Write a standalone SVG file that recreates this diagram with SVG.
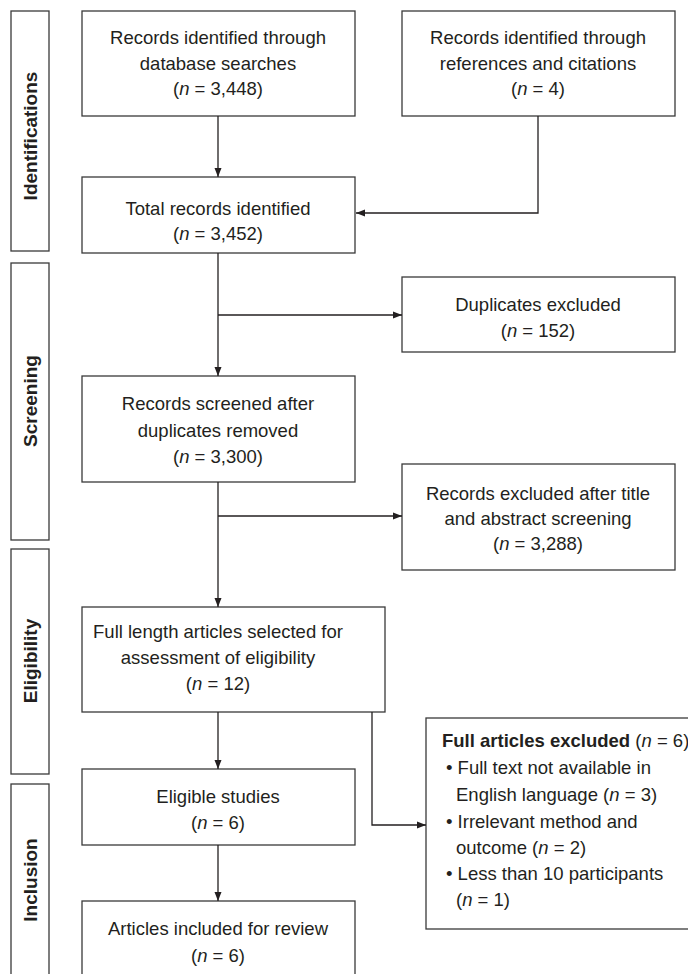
<svg xmlns="http://www.w3.org/2000/svg" width="688" height="974" viewBox="0 0 688 974">
<defs>
<marker id="ah" markerUnits="userSpaceOnUse" markerWidth="10" markerHeight="8" refX="9" refY="4" orient="auto">
<path d="M0,0.5 L9,4 L0,7.5 Z" fill="#231f20"/>
</marker>
<style>
.box{fill:#fff;stroke:#3a3a3a;stroke-width:1.3}
.t{font-family:"Liberation Sans",Arial,sans-serif;font-size:18.5px;fill:#231f20;text-anchor:middle}
.l{text-anchor:start}
.lab{font-family:"Liberation Sans",Arial,sans-serif;font-size:19px;font-weight:bold;fill:#231f20;text-anchor:middle}
.c{fill:none;stroke:#231f20;stroke-width:1.3}
.i{font-style:italic}
</style>
</defs>
<rect width="688" height="974" fill="#fff"/>

<g id="stage-identifications">
<rect class="box" x="11" y="11" width="38" height="240"/>
<text class="lab" transform="translate(37,136) rotate(-90)">Identifications</text>
</g>
<g id="stage-screening">
<rect class="box" x="11" y="263" width="38" height="277"/>
<text class="lab" transform="translate(37,401) rotate(-90)">Screening</text>
</g>
<g id="stage-eligibility">
<rect class="box" x="11" y="549" width="38" height="225"/>
<text class="lab" transform="translate(37,661) rotate(-90)">Eligibility</text>
</g>
<g id="stage-inclusion">
<rect class="box" x="11" y="784" width="38" height="200"/>
<text class="lab" transform="translate(37,880) rotate(-90)">Inclusion</text>
</g>

<g id="db-search">
<rect class="box" x="82" y="11" width="273" height="105"/>
<text class="t" x="218" y="44">Records identified through</text>
<text class="t" x="218" y="70">database searches</text>
<text class="t" x="218" y="95">(<tspan class="i">n</tspan> = 3,448)</text>
</g>
<g id="ref-search">
<rect class="box" x="402" y="11" width="273" height="105"/>
<text class="t" x="538" y="44">Records identified through</text>
<text class="t" x="538" y="70">references and citations</text>
<text class="t" x="538" y="95">(<tspan class="i">n</tspan> = 4)</text>
</g>
<g id="total">
<rect class="box" x="82" y="177" width="273" height="76"/>
<text class="t" x="218" y="215">Total records identified</text>
<text class="t" x="218" y="240">(<tspan class="i">n</tspan> = 3,452)</text>
</g>
<g id="duplicates">
<rect class="box" x="402" y="277" width="273" height="75"/>
<text class="t" x="538" y="311">Duplicates excluded</text>
<text class="t" x="538" y="337">(<tspan class="i">n</tspan> = 152)</text>
</g>
<g id="screened">
<rect class="box" x="82" y="376" width="273" height="106"/>
<text class="t" x="218" y="410">Records screened after</text>
<text class="t" x="218" y="437">duplicates removed</text>
<text class="t" x="218" y="463">(<tspan class="i">n</tspan> = 3,300)</text>
</g>
<g id="excluded-title">
<rect class="box" x="402" y="464" width="273" height="106"/>
<text class="t" x="538" y="500">Records excluded after title</text>
<text class="t" x="538" y="525">and abstract screening</text>
<text class="t" x="538" y="550">(<tspan class="i">n</tspan> = 3,288)</text>
</g>
<g id="full-length">
<rect class="box" x="82" y="607" width="303" height="105"/>
<text class="t" x="218" y="638">Full length articles selected for</text>
<text class="t" x="218" y="664">assessment of eligibility</text>
<text class="t" x="218" y="690">(<tspan class="i">n</tspan> = 12)</text>
</g>
<g id="full-excluded">
<rect class="box" x="426" y="718" width="270" height="211"/>
<text class="t l" x="442" y="747" font-size="17.5"><tspan font-weight="bold">Full articles excluded</tspan> (<tspan class="i">n</tspan> = 6)</text>
<text class="t l" x="446" y="774">• Full text not available in</text>
<text class="t l" x="456" y="801">English language (<tspan class="i">n</tspan> = 3)</text>
<text class="t l" x="446" y="828">• Irrelevant method and</text>
<text class="t l" x="456" y="854">outcome (<tspan class="i">n</tspan> = 2)</text>
<text class="t l" x="446" y="880">• Less than 10 participants</text>
<text class="t l" x="456" y="906">(<tspan class="i">n</tspan> = 1)</text>
</g>
<g id="eligible">
<rect class="box" x="82" y="769" width="273" height="76"/>
<text class="t" x="218" y="803">Eligible studies</text>
<text class="t" x="218" y="829">(<tspan class="i">n</tspan> = 6)</text>
</g>
<g id="included">
<rect class="box" x="82" y="901" width="273" height="90"/>
<text class="t" x="218" y="935">Articles included for review</text>
<text class="t" x="218" y="962">(<tspan class="i">n</tspan> = 6)</text>
</g>

<g id="connectors">
<path class="c" d="M218,116 V177" marker-end="url(#ah)"/>
<path class="c" d="M538,116 V213 H356" marker-end="url(#ah)"/>
<path class="c" d="M218,253 V376" marker-end="url(#ah)"/>
<path class="c" d="M218,315 H402" marker-end="url(#ah)"/>
<path class="c" d="M218,482 V607" marker-end="url(#ah)"/>
<path class="c" d="M218,516 H402" marker-end="url(#ah)"/>
<path class="c" d="M218,712 V769" marker-end="url(#ah)"/>
<path class="c" d="M372,712 V825 H426" marker-end="url(#ah)"/>
<path class="c" d="M218,845 V901" marker-end="url(#ah)"/>
</g>
</svg>
